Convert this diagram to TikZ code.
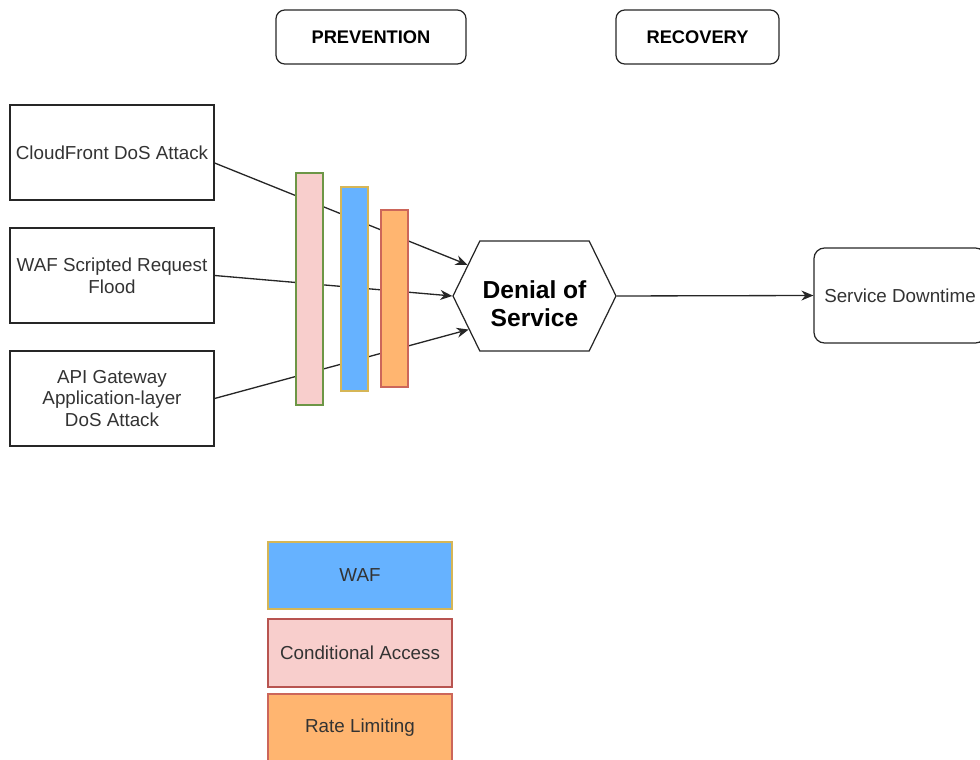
\documentclass[tikz,border=0pt]{standalone}
\usepackage{fontspec}
\setmainfont{Liberation Sans}
\definecolor{ink}{RGB}{51,51,51}
\definecolor{wafblue}{RGB}{102,178,255}
\definecolor{wafedge}{RGB}{214,182,86}
\definecolor{capink}{RGB}{248,206,204}
\definecolor{caedge}{RGB}{184,84,80}
\definecolor{rlorange}{RGB}{255,181,112}
\definecolor{rledge}{RGB}{204,102,90}
\definecolor{baredge}{RGB}{109,150,70}
\usetikzlibrary{arrows.meta,shapes.symbols}
\tikzset{
  attack/.style={draw=black!85, line width=0.7pt, minimum width=4.08cm, minimum height=1.9cm,
              inner sep=2pt, align=center, text=ink, font=\fontsize{10.7}{12.5}\selectfont},
  layer/.style={line width=0.7pt, minimum width=0.54cm, inner sep=0pt},
  threat/.style={draw=black!85, line width=0.7pt, shape=signal, signal to=west and east,
              signal pointer angle=128, minimum width=3.26cm, minimum height=2.2cm,
              inner sep=1pt, font=\fontsize{14}{16}\selectfont\bfseries},
  outcome/.style={draw=black!85, line width=0.7pt, rounded corners=6pt, minimum width=3.44cm,
              minimum height=1.9cm, text=ink, font=\fontsize{10.7}{12.5}\selectfont},
  phase/.style={draw=black!85, line width=0.7pt, rounded corners=5pt, minimum height=1.08cm,
              font=\fontsize{10.4}{12}\selectfont\bfseries},
  legend/.style={line width=0.7pt, minimum width=3.68cm, text=ink,
              font=\fontsize{10.7}{12.5}\selectfont},
  flow/.style={-{Stealth[length=2.4mm,width=2mm]}, line width=0.75pt, black!85},
}
\begin{document}
\begin{tikzpicture}
    \useasboundingbox (0,0) rectangle (19.6,15.18);
    % attacks
    \node[attack] (cf)  at (2.24,12.13) {CloudFront DoS Attack};
    \node[attack] (waf) at (2.24,9.67) {WAF Scripted Request\\ Flood};
    \node[attack] (api) at (2.24,7.21) {API Gateway\\ Application-layer\\ DoS Attack};
    \node[threat] (dos) at (10.69,9.26) {\parbox{2.1cm}{\centering\vspace{0.3cm}Denial of\\ Service}};
    \node[outcome] (sd) at (18.0,9.27) {Service Downtime};
    \node[phase,minimum width=3.8cm]  (prev) at (7.42,14.44) {PREVENTION};
    \node[phase,minimum width=3.26cm] (rec)  at (13.95,14.44) {RECOVERY};
    % attack paths
    \draw[flow] ([yshift=-0.21cm]cf.east) -- (dos.155);
    \draw[flow] (waf.east) -- (dos.west);
    \draw[flow] (api.east) -- (dos.207);
    \draw[flow] (dos.east) -- (sd.west);
    % control layers
    \node[layer,draw=baredge,fill=capink,minimum height=4.64cm]  (ca) at (6.19,9.40) {};
    \node[layer,draw=wafedge,fill=wafblue,minimum height=4.08cm] (wf) at (7.09,9.40) {};
    \node[layer,draw=rledge,fill=rlorange,minimum height=3.54cm] (rl) at (7.89,9.21) {};
    % legend
    \node[legend,draw=wafedge,fill=wafblue,minimum height=1.34cm] (lwaf) at (7.2,3.67) {WAF};
    \node[legend,draw=caedge,fill=capink,minimum height=1.36cm]   (lca)  at (7.2,2.12) {Conditional Access};
    \node[legend,draw=rledge,fill=rlorange,minimum height=1.36cm] (lrl)  at (7.2,0.62) {Rate Limiting};
\end{tikzpicture}
\end{document}
